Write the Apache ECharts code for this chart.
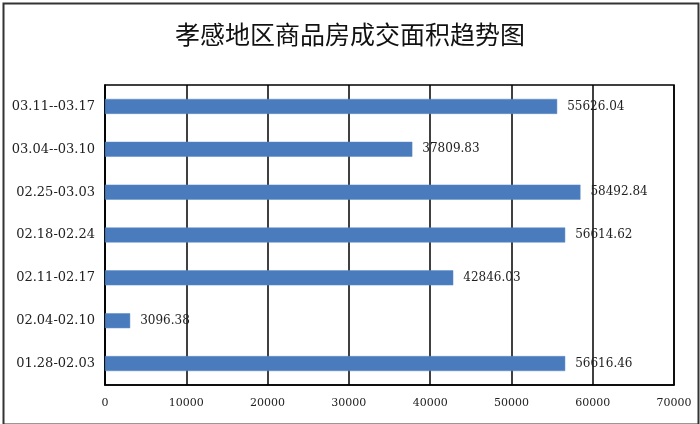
<!DOCTYPE html>
<html>
<head>
<meta charset="utf-8">
<script src="https://cdn.jsdelivr.net/npm/echarts@6/dist/echarts.min.js"></script>
<style>
html,body{margin:0;padding:0;background:#fff;}
#main{width:700px;height:424px;}
</style>
</head>
<body>
<div id="main"></div>
<script>
var titleText = '孝感地区商品房成交面积趋势图';
var categories = ['01.28-02.03','02.04-02.10','02.11-02.17','02.18-02.24','02.25-03.03','03.04--03.10','03.11--03.17'];
var areaValues = [56616.46, 3096.38, 42846.03, 56614.62, 58492.84, 37809.83, 55626.04];
var xTickMin = 0, xTickMax = 70000, xTickStep = 10000;

var chart = echarts.init(document.getElementById('main'), null, {renderer:'canvas'});
var serif = '"DejaVu Serif", "Liberation Serif", serif';
chart.setOption({
  backgroundColor:'#fff',
  animation:false,
  title:{
    text:titleText, left:'center', top:17,
    textStyle:{fontFamily:'"Noto Sans CJK SC", sans-serif', fontSize:25, fontWeight:'normal', color:'#111'}
  },
  graphic:[{
    type:'rect', left:1, top:1, shape:{x:0,y:0,width:695,height:421},
    style:{fill:'none', stroke:'#333', lineWidth:2}, silent:true
  }],
  grid:{left:105, right:26, top:85, bottom:39, show:true, borderColor:'#000', borderWidth:1.5, backgroundColor:'transparent'},
  xAxis:{
    type:'value', min:xTickMin, max:xTickMax, interval:xTickStep,
    axisLine:{show:true, lineStyle:{color:'#000', width:1.5}},
    axisTick:{show:false},
    splitLine:{show:true, lineStyle:{color:'#000', width:1.5}},
    axisLabel:{margin:13, fontFamily:serif, fontSize:11, color:'#222', formatter:function(v){return String(v);}}
  },
  yAxis:{
    type:'category', data:categories,
    axisLine:{show:true, lineStyle:{color:'#000', width:1.5}},
    axisTick:{show:false},
    axisLabel:{margin:10, fontFamily:serif, fontSize:13, color:'#222'}
  },
  series:[{
    type:'bar', data:areaValues, barWidth:15,
    itemStyle:{color:'#4a7bbd', borderColor:'#5b8ac6', borderWidth:0.5},
    label:{show:true, position:'right', distance:10, fontFamily:serif, fontSize:12, color:'#222',
      formatter:function(p){return p.value.toFixed(2);}}
  }]
});
</script>
</body>
</html>
